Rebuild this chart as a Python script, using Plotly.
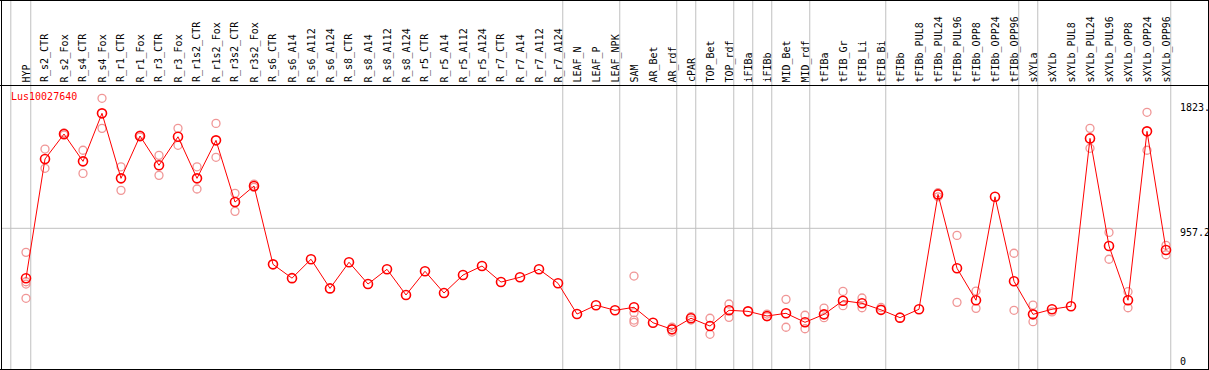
import plotly.graph_objects as go

categories = ["HYP", "R_s2_CTR", "R_s2_Fox", "R_s4_CTR", "R_s4_Fox", "R_r1_CTR", "R_r1_Fox",
              "R_r3_CTR", "R_r3_Fox", "R_r1s2_CTR", "R_r1s2_Fox", "R_r3s2_CTR", "R_r3s2_Fox",
              "R_s6_CTR", "R_s6_A14", "R_s6_A112", "R_s6_A124", "R_s8_CTR", "R_s8_A14",
              "R_s8_A112", "R_s8_A124", "R_r5_CTR", "R_r5_A14", "R_r5_A112", "R_r5_A124",
              "R_r7_CTR", "R_r7_A14", "R_r7_A112", "R_r7_A124", "LEAF_N", "LEAF_P", "LEAF_NPK",
              "SAM", "AR_Bet", "AR_rdf", "cPAR", "TOP_Bet", "TOP_rdf", "iFIBa", "iFIBb",
              "MID_Bet", "MID_rdf", "tFIBa", "tFIB_Gr", "tFIB_Li", "tFIB_Bi", "tFIBb",
              "tFIBb_PUL8", "tFIBb_PUL24", "tFIBb_PUL96", "tFIBb_OPP8", "tFIBb_OPP24",
              "tFIBb_OPP96", "sXYLa", "sXYLb", "sXYLb_PUL8", "sXYLb_PUL24", "sXYLb_PUL96",
              "sXYLb_OPP8", "sXYLb_OPP24", "sXYLb_OPP96"]

mean_values = [624, 1419, 1585, 1403, 1723, 1290, 1572, 1377, 1567, 1290, 1543, 1132, 1239,
               717, 625, 751, 557, 731, 586, 684, 513, 671, 526, 646, 706, 599, 631, 684, 591,
               386, 445, 411, 431, 328, 284, 358, 306, 411, 404, 373, 391, 331, 384, 475, 458,
               414, 362, 418, 1183, 691, 478, 1167, 604, 384, 418, 438, 1556, 839, 478, 1603, 813]

N = None
rep_a = [797, 1485, 1592, 1477, 1823, 1367, 1578, 1443, 1623, 1367, 1656, 1190, 1252,
         N, N, N, N, N, N, N, N, N, N, N, N, N, N, N, N, N, N, N,
         639, N, 298, 368, 358, 453, N, 386, 484, 378, 426, 537, 493, 430, N, N,
         1194, 910, 539, N, 791, 446, 400, N, 1623, 930, 535, 1730, 844]
rep_b = [601, 1357, 1578, 1323, 1623, 1210, 1565, 1310, 1510, 1219, 1430, 1070, 1230,
         N, N, N, N, N, N, N, N, N, N, N, N, N, N, N, N, N, N, N,
         395, N, 266, 346, 251, 364, N, 368, 298, 288, 362, 442, 428, N, N, N,
         1167, 464, 424, N, 411, 335, N, N, 1490, 751, 428, 1477, 781]
rep_c = [586] + [N] * 31 + [346] + [N] * 28
rep_d = [491] + [N] * 31 + [331] + [N] * 28

# indices of the last category of each group (a grey separator follows each)
group_ends = [-1, 0, 28, 31, 34, 35, 37, 38, 39, 41, 45, 52, 53, 60]

gene_id = "Lus10027640"
y_tick_values = [1823, 957.2, 0]
y_tick_labels = ["1823.", "957.2", "0"]
axis_max = 2 * y_tick_values[1]

# ---- layout geometry (pixels) ----
W, H = 1209, 370
x0_px, dx_px = 26, 19          # first category centre, category spacing
zero_px, top_px = 372, 84.6    # pixel rows of value 0 and axis_max
k = (zero_px - top_px) / axis_max

x_lo = -x0_px / dx_px
x_hi = (W - x0_px) / dx_px
y_lo = (zero_px - H) / k
y_hi = zero_px / k


def px(xp):
    return xp / W


def py(yp):
    return 1 - yp / H


x_idx = list(range(len(categories)))
fig = go.Figure()

rep_color = "rgb(240,150,150)"
for reps in (rep_a, rep_b, rep_c, rep_d):
    fig.add_trace(go.Scatter(
        x=x_idx, y=reps, mode="markers",
        marker=dict(symbol="circle-open", size=8, color=rep_color, line=dict(width=1.3, color=rep_color)),
        hoverinfo="skip", showlegend=False))

fig.add_trace(go.Scatter(
    x=x_idx, y=mean_values, mode="lines+markers",
    line=dict(color="red", width=1),
    marker=dict(symbol="circle-open", size=9, color="red", line=dict(width=1.6, color="red")),
    text=categories, showlegend=False))

shapes = []
right_edge_px = x0_px + dx_px * (group_ends[-1] + 0.25)
# grey separators
for g in group_ends:
    xv = g + 0.25 if g >= 0 else -0.8
    shapes.append(dict(type="line", xref="x", yref="paper", x0=xv, x1=xv, y0=0, y1=1,
                       line=dict(color="rgb(192,192,192)", width=1), layer="below"))
# grey horizontal mid line
shapes.append(dict(type="line", xref="paper", yref="y", x0=px(1), x1=px(right_edge_px),
                   y0=y_tick_values[1], y1=y_tick_values[1],
                   line=dict(color="rgb(192,192,192)", width=1), layer="below"))
# black borders
blk = dict(color="black", width=1)
shapes += [
    dict(type="line", xref="paper", yref="paper", x0=px(1.5), x1=px(1.5), y0=0, y1=1, line=blk),
    dict(type="line", xref="paper", yref="paper", x0=px(1208.5), x1=px(1208.5), y0=0, y1=1, line=blk),
    dict(type="line", xref="paper", yref="paper", x0=0, x1=1, y0=py(0.5), y1=py(0.5), line=blk),
    dict(type="line", xref="paper", yref="paper", x0=0, x1=1, y0=py(369.5), y1=py(369.5), line=blk),
    dict(type="line", xref="paper", yref="paper", x0=0, x1=1, y0=py(85.5), y1=py(85.5), line=blk),
]

mono = "DejaVu Sans Mono"
annotations = []
for i, c in enumerate(categories):
    annotations.append(dict(x=i, xref="x", y=py(83.5), yref="paper", text=c, textangle=-90,
                            xanchor="center", yanchor="bottom", showarrow=False,
                            font=dict(family=mono, size=10, color="black"), borderpad=0))
annotations.append(dict(x=px(9), xref="paper", y=py(96.7), yref="paper", text=gene_id,
                        xanchor="left", yanchor="middle", showarrow=False,
                        font=dict(family=mono, size=10, color="red")))
for lab, yc in zip(y_tick_labels, [107.3, 232.3, 361.7]):
    annotations.append(dict(x=px(1178), xref="paper", y=py(yc), yref="paper", text=lab,
                            xanchor="left", yanchor="middle", showarrow=False,
                            font=dict(family=mono, size=10, color="black")))

fig.update_layout(
    width=W, height=H, margin=dict(l=0, r=0, t=0, b=0, pad=0),
    paper_bgcolor="white", plot_bgcolor="white",
    xaxis=dict(range=[x_lo, x_hi], showgrid=False, zeroline=False, showticklabels=False,
               showline=False, fixedrange=True),
    yaxis=dict(range=[y_lo, y_hi], showgrid=False, zeroline=False, showticklabels=False,
               showline=False, fixedrange=True),
    shapes=shapes, annotations=annotations, showlegend=False,
)

fig.write_html("out.html", config={"displayModeBar": False},
               post_script="document.body.style.margin='0';document.body.style.overflow='hidden';")
